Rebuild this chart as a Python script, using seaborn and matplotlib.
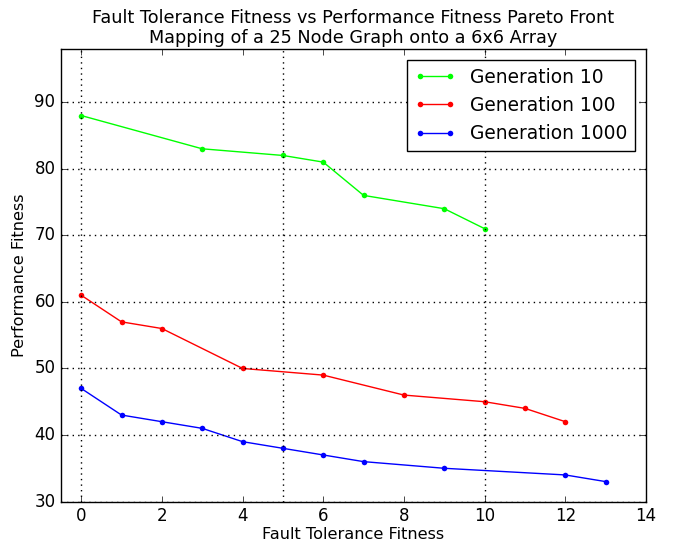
import matplotlib
matplotlib.use("Agg")
import matplotlib.pyplot as plt
import matplotlib.ticker as ticker
import seaborn as sns
import pandas as pd

# Pareto front data
gen10_x = [0, 3, 5, 6, 7, 9, 10]
gen10_y = [88, 83, 82, 81, 76, 74, 71]
gen100_x = [0, 1, 2, 4, 6, 8, 10, 11, 12]
gen100_y = [61, 57, 56, 50, 49, 46, 45, 44, 42]
gen1000_x = [0, 1, 2, 3, 4, 5, 6, 7, 9, 12, 13]
gen1000_y = [47, 43, 42, 41, 39, 38, 37, 36, 35, 34, 33]

labels = ["Generation 10", "Generation 100", "Generation 1000"]
colors = ["#00ff00", "#ff0000", "#0000ff"]

df = pd.concat([
    pd.DataFrame({"x": gen10_x, "y": gen10_y, "gen": labels[0]}),
    pd.DataFrame({"x": gen100_x, "y": gen100_y, "gen": labels[1]}),
    pd.DataFrame({"x": gen1000_x, "y": gen1000_y, "gen": labels[2]}),
])

plt.style.use("classic")
fig = plt.figure(figsize=(6.8, 5.44), dpi=100)
ax = fig.add_axes([0.0897, 0.078, 0.8603, 0.832])

sns.lineplot(data=df, x="x", y="y", hue="gen", palette=colors, marker="o",
             markersize=4, markeredgewidth=0, linewidth=1, sort=False,
             estimator=None, ax=ax)

ax.set_xlim(-0.5, 14)
ax.set_ylim(30, 98)
ax.xaxis.set_major_locator(ticker.MultipleLocator(2))
ax.yaxis.set_major_locator(ticker.MultipleLocator(10))
ax.xaxis.set_minor_locator(ticker.MultipleLocator(5))
ax.xaxis.remove_overlapping_locs = False
ax.tick_params(which="minor", length=0)
ax.tick_params(which="major", labelsize=12)

# Grid
ax.grid(False)
ax.grid(True, which="minor", axis="x", linestyle=":", color="k", linewidth=1)
ax.grid(True, which="major", axis="y", linestyle=":", color="k", linewidth=1)

# Labels
ax.set_title("Fault Tolerance Fitness vs Performance Fitness Pareto Front\n"
             "Mapping of a 25 Node Graph onto a 6x6 Array", fontsize=12.7, pad=4)
ax.set_xlabel("Fault Tolerance Fitness", fontsize=11.6, labelpad=1)
ax.set_ylabel("Performance Fitness", fontsize=11.6)

leg = ax.legend(loc="upper right", fontsize=13.4, numpoints=2,
                handlelength=2.2, borderaxespad=0.6)
leg.set_title(None)

fig.savefig("out.png", dpi=100)
